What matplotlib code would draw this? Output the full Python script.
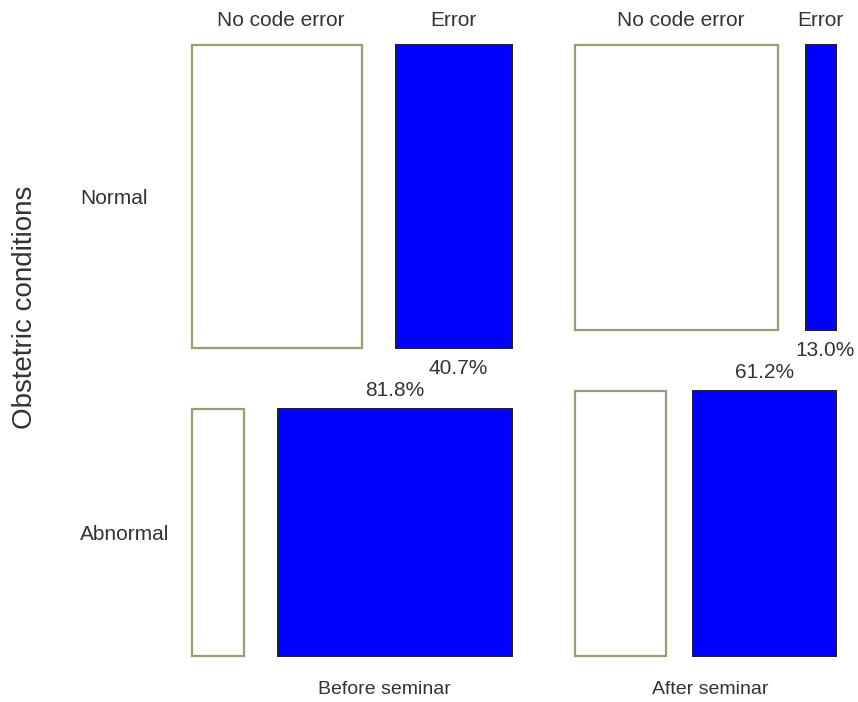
import matplotlib
matplotlib.use("Agg")
import matplotlib.pyplot as plt
from matplotlib.patches import Rectangle

plt.rcParams["font.family"] = ["Liberation Sans", "DejaVu Sans"]

# Mosaic data
seminars = ["Before seminar", "After seminar"]
conditions = ["Normal", "Abnormal"]
outcomes = ["No code error", "Error"]
seminar_share = [0.551, 0.449]          # column widths
normal_share = [0.55, 0.518]            # share of normal cases within each column
error_pct = [[40.7, 81.8],              # before: normal, abnormal
             [13.0, 61.2]]              # after: normal, abnormal

# Layout (pixel units of the canvas)
W, H = 858, 702
left, right, top, bottom = 192, 836, 45, 656
col_gap, row_gap, inner_gap_frac = 63, 61, 0.105
footer_shift = [32, 5]

fig = plt.figure(figsize=(W / 100, H / 100), dpi=100)
ax = fig.add_axes([0, 0, 1, 1])
ax.set_xlim(0, W)
ax.set_ylim(H, 0)
ax.axis("off")

txt = "#333333"
edge_ok = "#9c9c74"
edge_err = "#1a1a40"
fs = 15

avail_w = (right - left) - col_gap
avail_h = (bottom - top) - row_gap
x = left
for ci, sem in enumerate(seminars):
    cw = avail_w * seminar_share[ci]
    gap = cw * inner_gap_frac
    boxw = cw - gap
    row_h = [avail_h * normal_share[ci], avail_h * (1 - normal_share[ci])]
    y = top
    for ri, cond in enumerate(conditions):
        h = row_h[ri]
        e = error_pct[ci][ri] / 100.0
        w_ok = boxw * (1 - e)
        w_err = boxw * e
        x_err = x + w_ok + gap
        ax.add_patch(Rectangle((x, y), w_ok, h, facecolor="white",
                               edgecolor=edge_ok, lw=1.6))
        ax.add_patch(Rectangle((x_err, y), w_err, h, facecolor="#0000ff",
                               edgecolor=edge_err, lw=1.4))
        if ri == 0:
            ax.text(x + w_ok / 2 + 4, 20, outcomes[0], ha="center", va="center",
                    fontsize=fs, color=txt)
            ax.text(x_err + w_err / 2, 20, outcomes[1], ha="center", va="center",
                    fontsize=fs, color=txt)
            ax.text(x_err + w_err / 2 + 4, y + h + 21, f"{error_pct[ci][ri]:.1f}%",
                    ha="center", va="center", fontsize=fs, color=txt)
        else:
            ax.text(x_err + w_err / 2, y - 18, f"{error_pct[ci][ri]:.1f}%",
                    ha="center", va="center", fontsize=fs, color=txt)
        if ci == 0:
            ax.text(80, y + h / 2 + 2, cond, ha="left", va="center",
                    fontsize=fs, color=txt)
        y += h + row_gap
    ax.text(x + cw / 2 + footer_shift[ci], 689, sem, ha="center", va="center",
            fontsize=14, color=txt)
    x += cw + col_gap

ax.text(25, 307, "Obstetric conditions", rotation=90, ha="center", va="center",
        fontsize=20, color=txt)

fig.savefig("out.png", dpi=100, facecolor="white")
